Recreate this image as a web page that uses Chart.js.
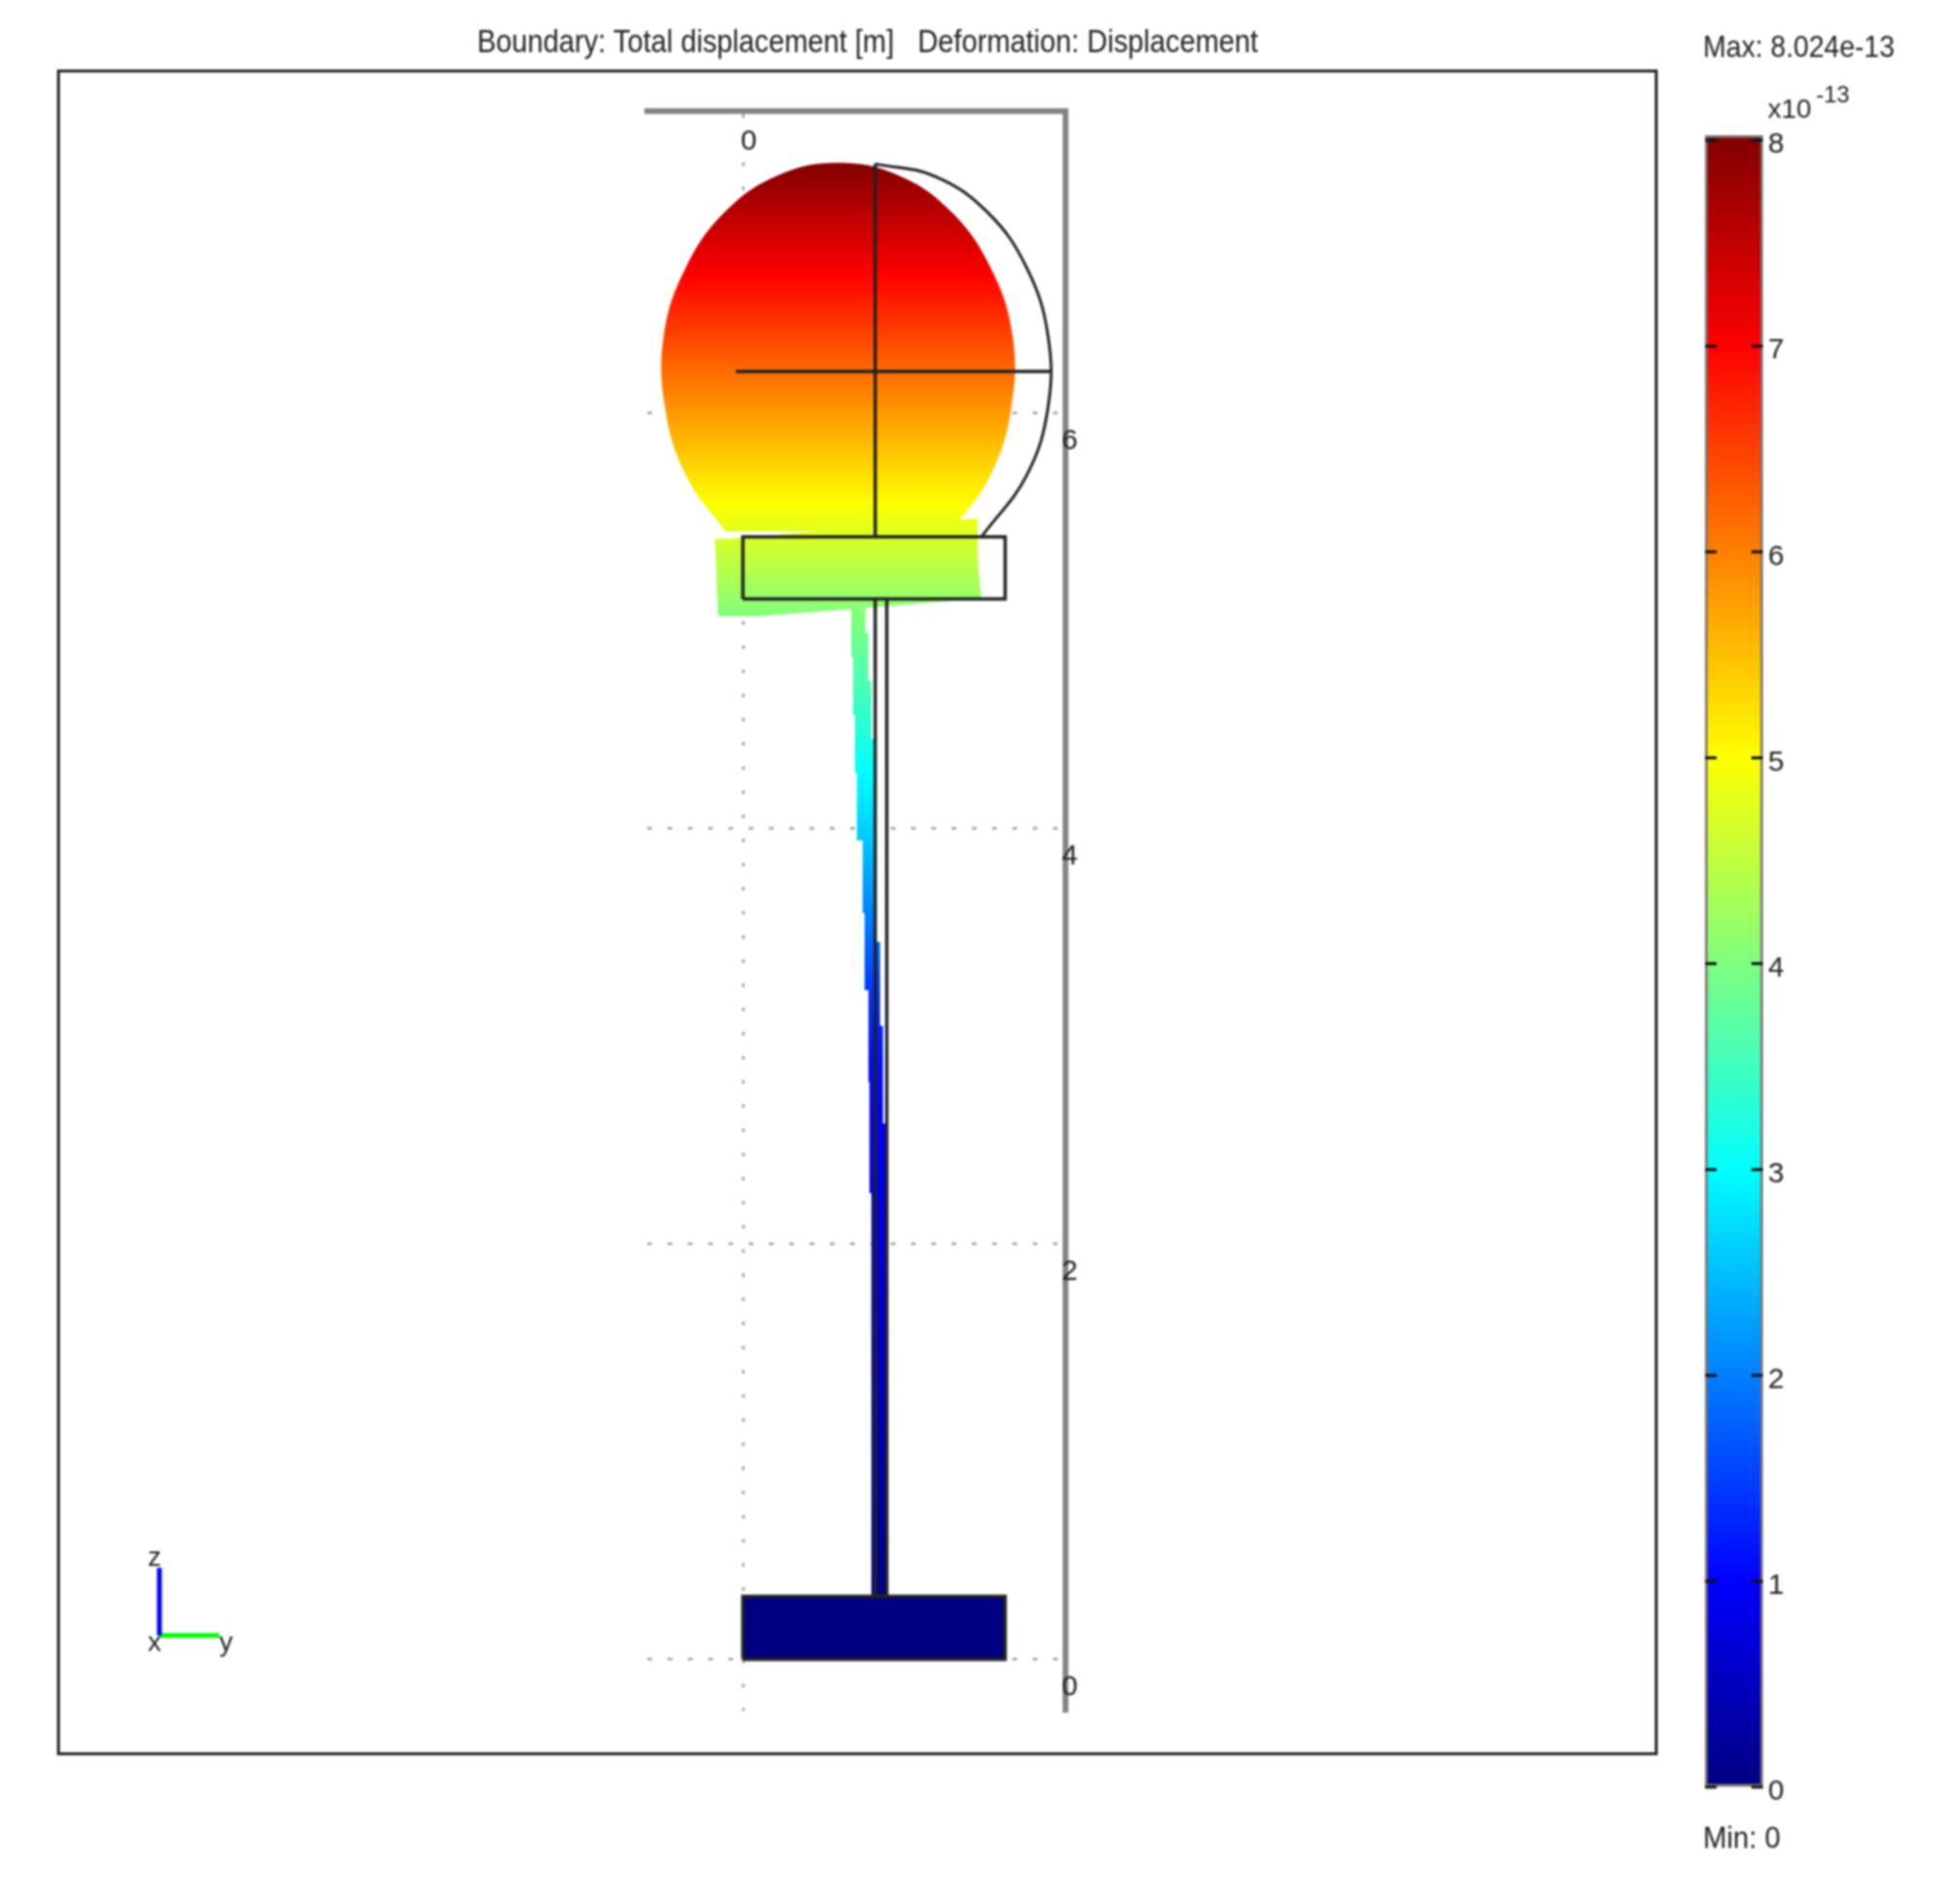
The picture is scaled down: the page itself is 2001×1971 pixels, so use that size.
<!DOCTYPE html>
<html><head><meta charset="utf-8">
<style>
html,body{margin:0;padding:0;background:#fff;width:2001px;height:1971px;overflow:hidden}
#wrap{position:absolute;left:0;top:0;width:2001px;height:1971px;filter:blur(.8px)}
#frame{position:absolute;left:59px;top:72px;width:1657px;height:1745px;border:3px solid #222;box-sizing:border-box}
canvas{position:absolute}
.t{position:absolute;font-family:"Liberation Sans",sans-serif;color:#222;white-space:pre;line-height:1;transform-origin:0 50%}
</style>
<script src="https://cdn.jsdelivr.net/npm/chart.js@4"></script>
</head><body>
<div id="wrap">
<div id="frame"></div>
<canvas id="main" width="2001" height="1971" style="left:0;top:0"></canvas>
<canvas id="bar" width="240" height="1800" style="left:1740px;top:100px"></canvas>
<div class="t" id="title" data-w="808" style="left:494px;top:25px;font-size:34px">Boundary: Total displacement [m]   Deformation: Displacement</div>
<div class="t" id="maxT" data-w="198" style="left:1763px;top:32px;font-size:32px">Max: 8.024e-13</div>
<div class="t" id="minT" data-w="80" style="left:1763px;top:1886px;font-size:32px">Min: 0</div>
<div class="t" style="left:1830px;top:99px;font-size:28px">x10</div>
<div class="t" style="left:1880px;top:86px;font-size:24px">-13</div>
<div class="t" style="left:153px;top:1598px;font-size:28px">z</div>
<div class="t" style="left:153px;top:1686px;font-size:28px">x</div>
<div class="t" style="left:227px;top:1686px;font-size:28px">y</div>
</div>
<script>
// Axis ticks and ranges (metres)
const yTicks=[0];
const zTicks=[0,2,4,6];
const barTicks=[0,1,2,3,4,5,6,7,8];
const yRange=[-0.547,1.843];
const zRange=[-0.248,7.454];
const maxValue=8.024, minValue=0;

// Displacement along the height
const fieldZ=[7.21,6.664,5.56,5.04,4.45,4.27,3.97,3.57,3.2,2.87,2.17,1.48,0.3,0];
const fieldV=[8.02,7,5,4.05,3.25,3,2.6,2,1.4,1.1,0.8,0.55,0.05,0];

// Colour scale knots
const cmapV=[0,1,3,5,7,8.024];
const cmapC=[[0,0,128],[0,0,255],[0,255,255],[255,255,0],[255,0,0],[128,0,0]];

// Deformed sphere
const ballY=[-0.101,-0.325,-0.445,-0.452,-0.325,-0.101,0.201,0.545,0.889,1.191,1.415,1.542,1.535,1.415,1.191];
const ballZ=[5.430,5.698,6.025,6.375,6.703,6.970,7.145,7.205,7.145,6.970,6.703,6.375,6.025,5.698,5.430];

// Deformed plate
const plateDefY=[-0.160,-0.086,1.258,1.341,1.346,1.365,1.065,0.613,0.088,-0.142,-0.160];
const plateDefZ=[5.395,5.395,5.488,5.492,5.257,5.105,5.087,5.055,5.022,5.022,5.395];

// Deformed stem
const stemY=[0.619,0.619,0.630,0.630,0.641,0.641,0.652,0.652,0.685,0.685,0.696,0.696,0.718,0.718,0.724,0.724,0.735,0.735,0.823,0.823,0.818,0.818,0.801,0.801,0.785,0.785,0.757,0.757,0.735,0.735,0.718,0.718,0.702,0.702];
const stemZ=[5.059,4.827,4.827,4.548,4.548,4.268,4.268,3.943,3.943,3.594,3.594,3.222,3.222,2.780,2.780,2.245,2.245,0.301,0.301,1.975,1.975,2.580,2.580,3.050,3.050,3.454,3.454,4.431,4.431,4.710,4.710,4.943,4.943,5.059];

// Base block
const baseY=[0,1.5,1.5,0,0];
const baseZ=[0,0,0.303,0.303,0];

// Undeformed outline
const plateY=[0,1.5,1.5,0,0];
const plateZ=[5.105,5.105,5.404,5.404,5.105];
const stemLeftY=[0.757,0.757], stemLeftZ=[0.303,5.105];
const stemRightY=[0.823,0.823], stemRightZ=[0.303,5.105];
const crossVY=[0.757,0.757], crossVZ=[5.404,7.2];
const crossHY=[-0.04,1.757], crossHZ=[6.2,6.2];
const arcY=[0.757,1.099,1.40,1.623,1.745,1.745,1.623,1.368];
const arcZ=[7.2,7.14,6.966,6.7,6.374,6.026,5.7,5.408];

// Orientation triad
const triadZY=[-3.337,-3.337], triadZZ=[0.44,0.115];
const triadYY=[-3.337,-2.994], triadYZ=[0.115,0.115];

function zip(a,b){return a.map((v,i)=>({x:v,y:b[i]}));}
function lerpTable(xs,ys,x){
  for(let i=0;i<xs.length-1;i++){
    const a=xs[i],b=xs[i+1];
    if((x>=a&&x<=b)||(x<=a&&x>=b)){const t=(x-a)/(b-a);return ys[i]+(ys[i+1]-ys[i])*t;}
  }
  return ys[ys.length-1];
}
function colorOf(v){
  v=Math.max(cmapV[0],Math.min(cmapV[cmapV.length-1],v));
  for(let i=0;i<cmapV.length-1;i++){
    if(v<=cmapV[i+1]){
      const t=(v-cmapV[i])/(cmapV[i+1]-cmapV[i]);
      const c=cmapC[i].map((k,j)=>Math.round(k+(cmapC[i+1][j]-k)*t));
      return `rgb(${c[0]},${c[1]},${c[2]})`;
    }
  }
  return 'rgb(128,0,0)';
}
function fieldFill(ctx){
  const ch=ctx.chart, s=ch.scales.y;
  if(!s||!ch.chartArea) return 'rgba(0,0,0,0)';
  const zt=fieldZ[0], zb=fieldZ[fieldZ.length-1];
  const g=ch.ctx.createLinearGradient(0,s.getPixelForValue(zt),0,s.getPixelForValue(zb));
  const n=400;
  for(let i=0;i<=n;i++){
    const z=zt+(zb-zt)*i/n;
    g.addColorStop(i/n,colorOf(lerpTable(fieldZ,fieldV,z)));
  }
  return g;
}
const outline=(a,b,w=3.5,ten=0)=>({data:zip(a,b),showLine:true,pointRadius:0,borderColor:'#222',borderWidth:w,tension:ten,fill:false,order:1});
const shape=(a,b,o,ten=0)=>({data:zip(a,b),showLine:true,pointRadius:0,borderWidth:0,borderColor:'rgba(0,0,0,0)',tension:ten,fill:'shape',backgroundColor:fieldFill,order:o});
const hidden={display:false};

new Chart(document.getElementById('main'),{
  type:'scatter',
  data:{datasets:[
    outline(plateY,plateZ),
    outline(stemLeftY,stemLeftZ),
    outline(stemRightY,stemRightZ),
    outline(crossVY,crossVZ),
    outline(crossHY,crossHZ),
    outline(arcY,arcZ,3,0.4),
    outline(baseY,baseZ),
    Object.assign(outline(triadZY,triadZZ,5),{borderColor:'#0000ff',clip:false}),
    Object.assign(outline(triadYY,triadYZ,5),{borderColor:'#00ff00',clip:false}),
    shape(ballY,ballZ,3,0.4),
    shape(plateDefY,plateDefZ,3),
    shape(stemY,stemZ,3),
    shape(baseY,baseZ,3)
  ]},
  options:{
    responsive:false,animation:false,devicePixelRatio:1,events:[],
    layout:{padding:{left:769-99,top:115,right:2001-1102.6,bottom:1971-1771}},
    plugins:{legend:hidden,title:hidden,tooltip:{enabled:false}},
    scales:{
      x:{type:'linear',position:'top',min:yRange[0],max:yRange[1],
        afterBuildTicks:s=>{s.ticks=yTicks.map(v=>({value:v}));},
        afterFit:s=>{s.height=0;},
        border:{display:true,color:'#858585',width:6,dash:[4,21]},
        grid:{color:'#b0b0b0',lineWidth:3,drawTicks:false},
        ticks:{autoSkip:false,maxRotation:0,mirror:true,padding:14,labelOffset:6,color:'#222',font:{family:'Liberation Sans',size:30},callback:v=>String(v)}
      },
      y:{type:'linear',position:'right',min:zRange[0],max:zRange[1],
        afterBuildTicks:s=>{s.ticks=zTicks.map(v=>({value:v}));},
        afterFit:s=>{s.width=0;},
        border:{display:true,color:'#858585',width:6,dash:[5,16]},
        grid:{color:'#b0b0b0',lineWidth:3,drawTicks:false},
        ticks:{autoSkip:false,mirror:true,padding:13,labelOffset:29,color:'#222',font:{family:'Liberation Sans',size:30},callback:v=>String(v)}
      }
    }
  }
});

const inwardTicks={id:'inwardTicks',afterDatasetsDraw(ch){
  const s=ch.scales.y,a=ch.chartArea,c=ch.ctx;
  c.save();c.strokeStyle='#111';c.lineWidth=3;c.beginPath();
  s.ticks.forEach(t=>{const p=s.getPixelForValue(t.value);
    c.moveTo(a.left,p);c.lineTo(a.left+12,p);c.moveTo(a.right,p);c.lineTo(a.right-12,p);});
  c.stroke();c.restore();
}};
function barFill(ctx){
  const ch=ctx.chart,s=ch.scales.y;
  if(!s||!ch.chartArea) return 'rgba(0,0,0,0)';
  const g=ch.ctx.createLinearGradient(0,s.getPixelForValue(minValue),0,s.getPixelForValue(maxValue));
  cmapV.forEach((v,i)=>g.addColorStop(v/maxValue,colorOf(v)));
  return g;
}
new Chart(document.getElementById('bar'),{
  type:'bar',
  plugins:[inwardTicks],
  data:{labels:['displacement'],datasets:[{data:[[minValue,maxValue]],backgroundColor:barFill,borderColor:'rgba(20,0,0,.55)',borderWidth:3,borderSkipped:false,barPercentage:1,categoryPercentage:1}]},
  options:{
    responsive:false,animation:false,devicePixelRatio:1,events:[],
    layout:{padding:{left:25,top:37,right:240-85,bottom:1800-1750}},
    plugins:{legend:hidden,title:hidden,tooltip:{enabled:false}},
    scales:{
      x:{display:false},
      y:{type:'linear',position:'right',min:minValue,max:maxValue,
        afterBuildTicks:s=>{s.ticks=barTicks.map(v=>({value:v}));},
        afterFit:s=>{s.width=0;},
        border:{display:false},
        grid:{drawOnChartArea:false,drawTicks:false},
        ticks:{autoSkip:false,mirror:true,padding:22,labelOffset:5,color:'#222',font:{family:'Liberation Sans',size:30},callback:v=>String(v)}
      }
    }
  }
});

document.querySelectorAll('.t[data-w]').forEach(el=>{
  el.style.transform='scaleX('+(+el.dataset.w/el.offsetWidth)+')';
});
</script>
</body></html>
